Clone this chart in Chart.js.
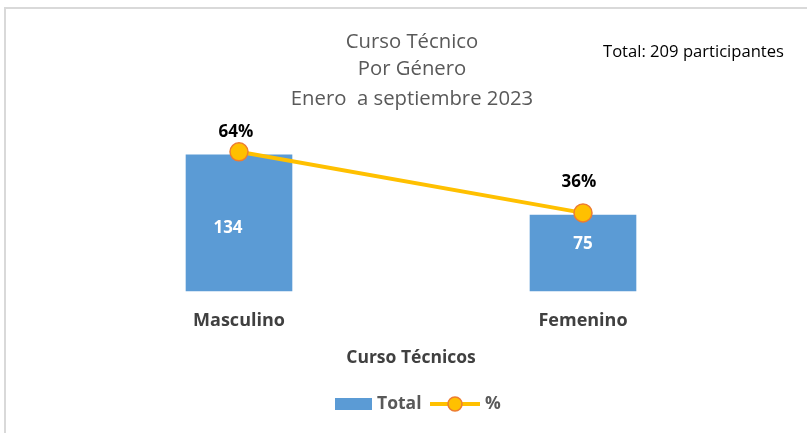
<!DOCTYPE html>
<html>
<head>
<meta charset="utf-8">
<script src="https://cdn.jsdelivr.net/npm/chart.js@4.4.0/dist/chart.umd.min.js"></script>
<style>
  html, body { margin: 0; padding: 0; background: #fff; }
  #wrap { position: relative; width: 807px; height: 433px; overflow: hidden; }
  #frame { position: absolute; left: 4px; top: 7px; width: 900px; height: 500px; border: 2px solid #d9d9d9; box-sizing: border-box; }
  canvas { position: absolute; left: 0; top: 0; }
</style>
</head>
<body>
<div id="wrap">
  <div id="frame"></div>
  <canvas id="c" width="807" height="433"></canvas>
</div>
<script>
const categories = ["Masculino", "Femenino"];
const totals = [134, 75];
const percents = [64, 36];
const titleLines = ["Curso Técnico", "Por Género", "Enero  a septiembre 2023"];
const totalNote = "Total: 209 participantes";
const axisTitle = "Curso Técnicos";
const seriesNames = ["Total", "%"];

const FONT = "'Open Sans', Lato, sans-serif";
const BLUE = "#5B9BD5";
const GOLD = "#FFC000";
const ORANGE = "#ED7D31";

const overlay = {
  id: 'overlay',
  afterDatasetsDraw(chart, args, opts) {
    const ctx = chart.ctx;
    const ca = chart.chartArea;
    const cx = (ca.left + ca.right) / 2;
    ctx.save();
    // Title
    ctx.fillStyle = '#595959';
    ctx.font = '20.3px ' + FONT;
    ctx.textAlign = 'center';
    ctx.textBaseline = 'middle';
    const tY = [42, 69, 99];
    titleLines.forEach((t, i) => ctx.fillText(t, cx + 1, tY[i]));
    // Total note
    ctx.fillStyle = '#000';
    ctx.font = '16.6px ' + FONT;
    ctx.textAlign = 'left';
    ctx.fillText(totalNote, 603, 52);

    // bar value labels
    const barMeta = chart.getDatasetMeta(0);
    ctx.font = 'bold 17px ' + FONT;
    ctx.fillStyle = '#fff';
    ctx.textAlign = 'center';
    ctx.textBaseline = 'middle';
    barMeta.data.forEach((el, i) => {
      const midY = (el.y + el.base) / 2;
      ctx.fillText(String(totals[i]), el.x + opts.barLabelDx[i], midY + opts.barLabelDy[i]);
    });
    // line labels
    const lineMeta = chart.getDatasetMeta(1);
    ctx.fillStyle = '#000';
    ctx.font = 'bold 17px ' + FONT;
    lineMeta.data.forEach((el, i) => {
      ctx.fillText(percents[i] + '%', el.x + opts.pctLabelDx[i], el.y + opts.pctLabelDy[i]);
    });

    // Legend
    const ly = 404;
    ctx.fillStyle = BLUE;
    ctx.fillRect(335, ly - 6, 37, 12);
    ctx.fillStyle = '#595959';
    ctx.font = 'bold 17.5px ' + FONT;
    ctx.textAlign = 'left';
    ctx.textBaseline = 'middle';
    ctx.fillText(seriesNames[0], 377, ly);
    ctx.strokeStyle = GOLD;
    ctx.lineWidth = 4;
    ctx.beginPath();
    ctx.moveTo(430, ly);
    ctx.lineTo(480, ly);
    ctx.stroke();
    ctx.beginPath();
    ctx.arc(455, ly, 7, 0, Math.PI * 2);
    ctx.fillStyle = GOLD;
    ctx.fill();
    ctx.lineWidth = 1.5;
    ctx.strokeStyle = ORANGE;
    ctx.stroke();
    ctx.fillStyle = '#595959';
    ctx.fillText(seriesNames[1], 485, ly);
    ctx.restore();
  }
};

new Chart(document.getElementById('c'), {
  data: {
    labels: categories,
    datasets: [
      {
        type: 'bar',
        label: seriesNames[0],
        data: totals,
        backgroundColor: BLUE,
        yAxisID: 'y',
        categoryPercentage: 1,
        barPercentage: 0.31,
        order: 2
      },
      {
        type: 'line',
        label: seriesNames[1],
        data: percents,
        borderColor: GOLD,
        borderWidth: 4,
        pointRadius: 9,
        pointBackgroundColor: GOLD,
        pointBorderColor: ORANGE,
        pointBorderWidth: 1.5,
        yAxisID: 'y1',
        order: 1
      }
    ]
  },
  options: {
    responsive: false,
    animation: false,
    layout: { padding: { left: 67, right: 52, top: 130, bottom: 64 } },
    plugins: {
      legend: { display: false },
      tooltip: { enabled: false },
      overlay: {
        barLabelDx: [-11, 0],
        barLabelDy: [5, -9],
        pctLabelDx: [-3, -4],
        pctLabelDy: [-20, -31]
      }
    },
    scales: {
      x: {
        grid: { display: false, drawTicks: false },
        border: { display: false },
        ticks: { color: '#404040', padding: 19, font: { family: FONT, size: 18, weight: 'bold' } },
        title: { display: true, text: axisTitle, color: '#404040', padding: { top: -3, bottom: 0 }, font: { family: FONT, size: 17.5, weight: 'bold' } }
      },
      y: { display: false, min: 0, max: 158 },
      y1: { display: false, min: 0, max: 74, position: 'right' }
    }
  },
  plugins: [overlay]
});
</script>
</body>
</html>
